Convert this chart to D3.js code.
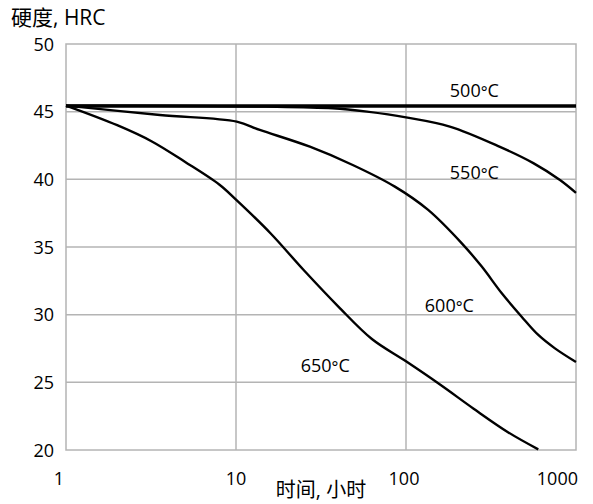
<!DOCTYPE html>
<html>
<head>
<meta charset="utf-8">
<script src="https://cdn.jsdelivr.net/npm/d3@7"></script>
<style>
  body { margin: 0; background: #fff; }
  text { font-family: "Open Sans", "Noto Sans CJK SC", sans-serif; fill: #000; }
</style>
</head>
<body>
<div id="chart"></div>
<script>
// Tempering hardness vs. time (log scale)
const xTicks = [1, 10, 100, 1000];
const yTicks = [20, 25, 30, 35, 40, 45, 50];

const hours500 = [1, 10, 100, 1000];
const hrc500 = [45.42, 45.42, 45.42, 45.42];

const hours550 = [1, 5, 15, 37, 59, 100, 181, 357, 561, 805, 1000];
const hrc550 = [45.45, 45.42, 45.38, 45.25, 45.0, 44.58, 43.9, 42.4, 41.2, 39.95, 39.0];

const hours600 = [1, 3.57, 10.1, 13.8, 27.2, 48.6, 86, 135, 213, 279, 366, 479, 600, 752, 1000];
const hrc600 = [45.45, 44.75, 44.26, 43.65, 42.41, 41.06, 39.46, 37.74, 35.27, 33.55, 31.58, 29.85, 28.5, 27.51, 26.5];

const hours650 = [1, 2, 3.2, 5, 8, 10, 16, 25, 40, 63, 100, 160, 250, 400, 600];
const hrc650 = [45.45, 44.0, 42.8, 41.3, 39.6, 38.5, 36.0, 33.3, 30.6, 28.2, 26.55, 24.8, 23.05, 21.3, 20.05];

const seriesNames = ["500", "550", "600", "650"];
// where each temperature label sits, in data units (hours, HRC)
const labelHours = [181, 181, 129, 24];
const labelHrc = [46.08, 40.03, 30.2, 25.73];

const width = 593;
const height = 504;
const margin = { top: 44, right: 17, bottom: 54, left: 66 };

const svg = d3.select('#chart').append('svg')
    .attr('width', width)
    .attr('height', height);

const x = d3.scaleLog()
    .domain([1, 1000])
    .range([margin.left, width - margin.right]);

const y = d3.scaleLinear()
    .domain([20, 50])
    .range([height - margin.bottom, margin.top]);

const gridColor = '#b4b4b4';

// grid
svg.append('g')
    .selectAll('line')
    .data(yTicks.slice(1, -1))
    .join('line')
    .attr('x1', x(1)).attr('x2', x(1000))
    .attr('y1', d => y(d)).attr('y2', d => y(d))
    .attr('stroke', gridColor).attr('stroke-width', 1.5);

svg.append('g')
    .selectAll('line')
    .data(xTicks.slice(1, -1))
    .join('line')
    .attr('x1', d => x(d)).attr('x2', d => x(d))
    .attr('y1', y(20)).attr('y2', y(50))
    .attr('stroke', gridColor).attr('stroke-width', 1.5);

svg.append('rect')
    .attr('x', x(1)).attr('y', y(50))
    .attr('width', x(1000) - x(1))
    .attr('height', y(20) - y(50))
    .attr('fill', 'none')
    .attr('stroke', gridColor).attr('stroke-width', 1.5);

// y tick labels
svg.append('g')
    .selectAll('text')
    .data(yTicks)
    .join('text')
    .attr('x', margin.left - 12)
    .attr('y', d => y(d) + 6.5)
    .attr('text-anchor', 'end')
    .attr('font-size', 18)
    .text(d => d);

// x tick labels
svg.append('g')
    .selectAll('text')
    .data(xTicks)
    .join('text')
    .attr('x', (d, i) => i === 0 ? x(d) - 2 : (i === xTicks.length - 1 ? x(d) + 2 : x(d) - (d === 100 ? 2 : 0)))
    .attr('y', 485)
    .attr('text-anchor', (d, i) => i === 0 || i === xTicks.length - 1 ? 'end' : 'middle')
    .attr('font-size', 18)
    .text(d => d);

// axis titles
svg.append('text')
    .attr('x', 11).attr('y', 25)
    .attr('font-size', 21)
    .text('硬度, HRC');

svg.append('text')
    .attr('x', (x(1) + x(1000)) / 2).attr('y', 497)
    .attr('text-anchor', 'middle')
    .attr('font-size', 20)
    .text('时间, 小时');

// curves
const line = d3.line()
    .x(d => x(d[0]))
    .y(d => y(d[1]))
    .curve(d3.curveCatmullRom.alpha(0.5));

const series = [
    { hours: hours500, hrc: hrc500, w: 3.3 },
    { hours: hours550, hrc: hrc550, w: 2.4 },
    { hours: hours600, hrc: hrc600, w: 2.4 },
    { hours: hours650, hrc: hrc650, w: 2.4 }
];

svg.append('g')
    .selectAll('path')
    .data(series)
    .join('path')
    .attr('d', s => line(d3.zip(s.hours, s.hrc)))
    .attr('fill', 'none')
    .attr('stroke', '#000')
    .attr('stroke-width', s => s.w)
    .attr('stroke-linejoin', 'round');

// temperature labels
const labels = svg.append('g')
    .selectAll('text')
    .data(seriesNames)
    .join('text')
    .attr('x', (d, i) => x(labelHours[i]))
    .attr('y', (d, i) => y(labelHrc[i]))
    .attr('font-size', 18);

labels.append('tspan').text(d => d);
labels.append('tspan').attr('dy', 1).attr('font-size', 16).text('°');
labels.append('tspan').attr('dy', -1).text('C');
</script>
</body>
</html>
